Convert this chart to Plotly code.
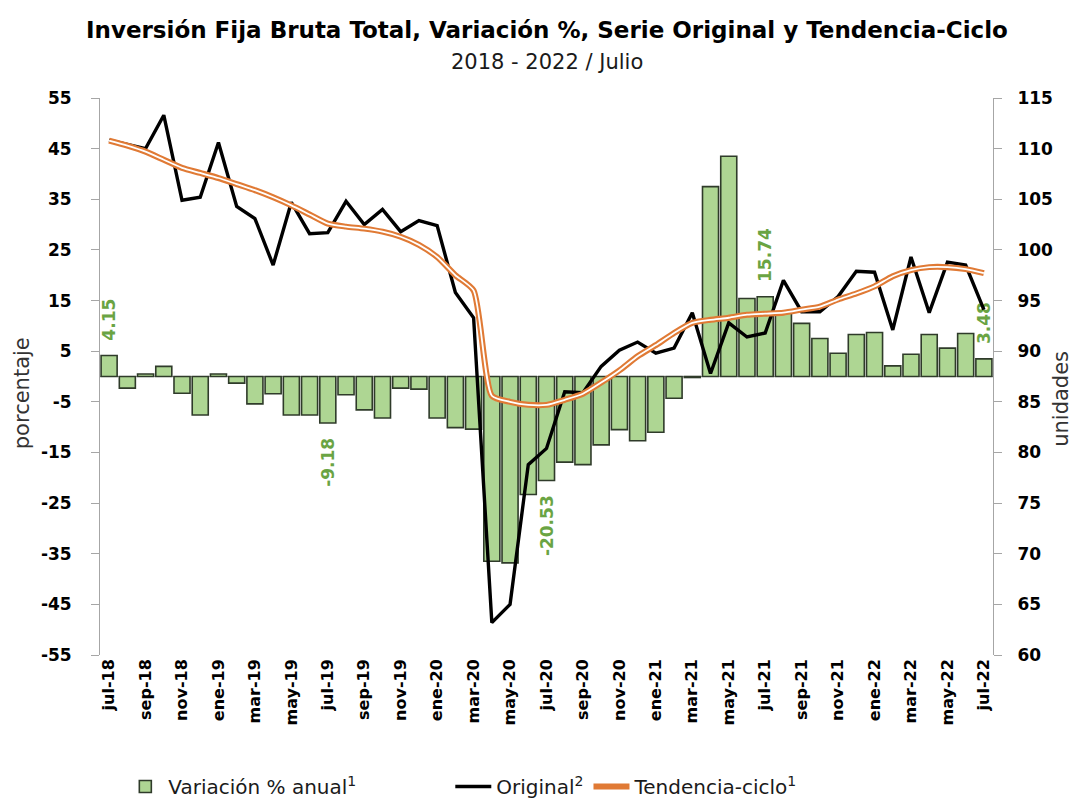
import plotly.graph_objects as go

months = ["jul-18","ago-18","sep-18","oct-18","nov-18","dic-18",
          "ene-19","feb-19","mar-19","abr-19","may-19","jun-19","jul-19","ago-19","sep-19","oct-19","nov-19","dic-19",
          "ene-20","feb-20","mar-20","abr-20","may-20","jun-20","jul-20","ago-20","sep-20","oct-20","nov-20","dic-20",
          "ene-21","feb-21","mar-21","abr-21","may-21","jun-21","jul-21","ago-21","sep-21","oct-21","nov-21","dic-21",
          "ene-22","feb-22","mar-22","abr-22","may-22","jun-22","jul-22"]

var_pct = [4.15, -2.3, 0.5, 2.0, -3.3, -7.6, 0.5, -1.3, -5.4, -3.4, -7.6, -7.6, -9.18, -3.6, -6.6, -8.2, -2.3, -2.5,
           -8.2, -10.1, -10.4, -36.5, -36.8, -23.3, -20.53, -16.9, -17.4, -13.5, -10.5, -12.7,
           -11.0, -4.3, -0.2, 37.5, 43.5, 15.4, 15.74, 12.5, 10.5, 7.5, 4.6, 8.3,
           8.7, 2.1, 4.4, 8.3, 5.6, 8.5, 3.48]

original = [110.85, 110.4, 110.0, 113.3, 104.9, 105.2, 110.6, 104.3, 103.1, 98.5, 104.7, 101.6, 101.7, 104.8, 102.5, 104.0, 101.8, 102.9,
            102.4, 95.8, 93.3, 63.2, 65.0, 78.8, 80.4, 86.0, 85.9, 88.5, 90.1, 90.9,
            89.8, 90.3, 93.8, 87.8, 92.8, 91.4, 91.8, 97.0, 93.9, 93.9, 95.4, 97.9,
            97.8, 92.1, 99.3, 93.8, 98.8, 98.5, 94.1]

tendencia = [110.8, 110.3, 109.7, 108.9, 108.1, 107.6, 107.1, 106.5, 105.9, 105.2, 104.4, 103.5, 102.6, 102.3, 102.1, 101.8, 101.3, 100.5,
             99.3, 97.5, 96.0, 85.6, 85.0, 84.7, 84.7, 85.2, 85.8, 86.9, 88.1, 89.5,
             90.6, 91.8, 92.8, 93.1, 93.3, 93.6, 93.7, 93.8, 94.1, 94.4, 95.1, 95.7,
             96.4, 97.4, 98.0, 98.3, 98.3, 98.1, 97.7]

labeled = {"jul-18", "jul-19", "jul-20", "jul-21", "jul-22"}
NB = "\u00a0"
bar_text = []
for m, v in zip(months, var_pct):
    if m in labeled:
        bar_text.append((NB * 2 + f"{v:.2f}") if v >= 0 else (f"{v:.2f}" + NB * 2))
    else:
        bar_text.append("")
tick_vals = months[::2]
left_ticks = list(range(-55, 56, 10))
right_ticks = list(range(60, 116, 5))

FONT = "DejaVu Sans"
GREEN_TXT = "#6AA443"
ORANGE = "#E07A35"

fig = go.Figure()

fig.add_trace(go.Bar(
    x=months, y=var_pct, name="Variación % anual<sup>1</sup>" + NB * 14,
    marker=dict(color="#AED693", line=dict(color="#2F3B2A", width=1.6)),
    text=bar_text, textposition="outside", textangle=-90, constraintext="none",
    cliponaxis=False,
    textfont=dict(family=FONT, size=17, color=GREEN_TXT, weight="bold"),
    yaxis="y",
))

fig.add_trace(go.Scatter(
    x=months, y=original, name="Original<sup>2</sup>", mode="lines",
    line=dict(color="#000000", width=3.4), yaxis="y2",
))

fig.add_trace(go.Scatter(
    x=months, y=tendencia, name="Tendencia-ciclo<sup>1</sup>", mode="lines",
    line=dict(color=ORANGE, width=6, shape="spline", smoothing=0.6), yaxis="y2",
))
fig.add_trace(go.Scatter(
    x=months, y=tendencia, mode="lines", showlegend=False, hoverinfo="skip",
    line=dict(color="#FFFFFF", width=1.8, shape="spline", smoothing=0.6), yaxis="y2",
))

fig.update_layout(
    width=1075, height=796,
    margin=dict(l=92, r=90, t=90, b=149, autoexpand=False),
    paper_bgcolor="white", plot_bgcolor="white",
    font=dict(family=FONT, color="#000000"),
    bargap=0.12,
    showlegend=True,
    legend=dict(orientation="h", x=0.025, xanchor="left", y=-0.236, yanchor="middle",
                font=dict(size=20, family=FONT, color="#1a1a1a"), itemwidth=36,
                borderwidth=0, tracegroupgap=0, traceorder="normal"),
    xaxis=dict(type="category", categoryorder="array", categoryarray=months,
               tickmode="array", tickvals=tick_vals, ticktext=tick_vals,
               tickangle=-90, tickfont=dict(size=16, family=FONT, weight="bold", color="#000000"),
               showgrid=False, showline=False, ticks="", range=[-0.5, 48.5], automargin=False),
    yaxis=dict(range=[-55, 55], tickmode="array", tickvals=left_ticks, ticktext=[str(t) for t in left_ticks],
               showgrid=False, automargin=False,
               showline=True, linecolor="#A6A6A6", linewidth=1,
               ticks="outside", ticklen=8, tickcolor="#A6A6A6", ticklabelstandoff=16,
               zeroline=True, zerolinecolor="#A6A6A6", zerolinewidth=1.2,
               tickfont=dict(size=17, family=FONT, weight="bold", color="#000000")),
    yaxis2=dict(range=[60, 115], tickmode="array", tickvals=right_ticks, ticktext=[str(t) for t in right_ticks],
                overlaying="y", side="right", showgrid=False, automargin=False,
                showline=True, linecolor="#A6A6A6", linewidth=1,
                ticks="outside", ticklen=8, tickcolor="#A6A6A6", ticklabelstandoff=12, zeroline=False,
                tickfont=dict(size=17, family=FONT, weight="bold", color="#000000")),
)

fig.add_annotation(text="<b>Inversión Fija Bruta Total, Variación %, Serie Original y Tendencia-Ciclo</b>",
                   xref="paper", yref="paper", x=0.5, y=1.0, yshift=68, xanchor="center", yanchor="middle",
                   showarrow=False, font=dict(size=23, family=FONT, color="#000000"))
fig.add_annotation(text="2018 - 2022 / Julio",
                   xref="paper", yref="paper", x=0.5, y=1.0, yshift=36, xanchor="center", yanchor="middle",
                   showarrow=False, font=dict(size=21, family=FONT, color="#1a1a1a"))
fig.add_annotation(text="porcentaje", textangle=-90,
                   xref="paper", yref="paper", x=0, xshift=-78, y=0.47, xanchor="center", yanchor="middle",
                   showarrow=False, font=dict(size=21, family=FONT, color="#333333"))
fig.add_annotation(text="unidades", textangle=-90,
                   xref="paper", yref="paper", x=1, xshift=68, y=0.46, xanchor="center", yanchor="middle",
                   showarrow=False, font=dict(size=21, family=FONT, color="#333333"))

fig.write_html("out.html")
